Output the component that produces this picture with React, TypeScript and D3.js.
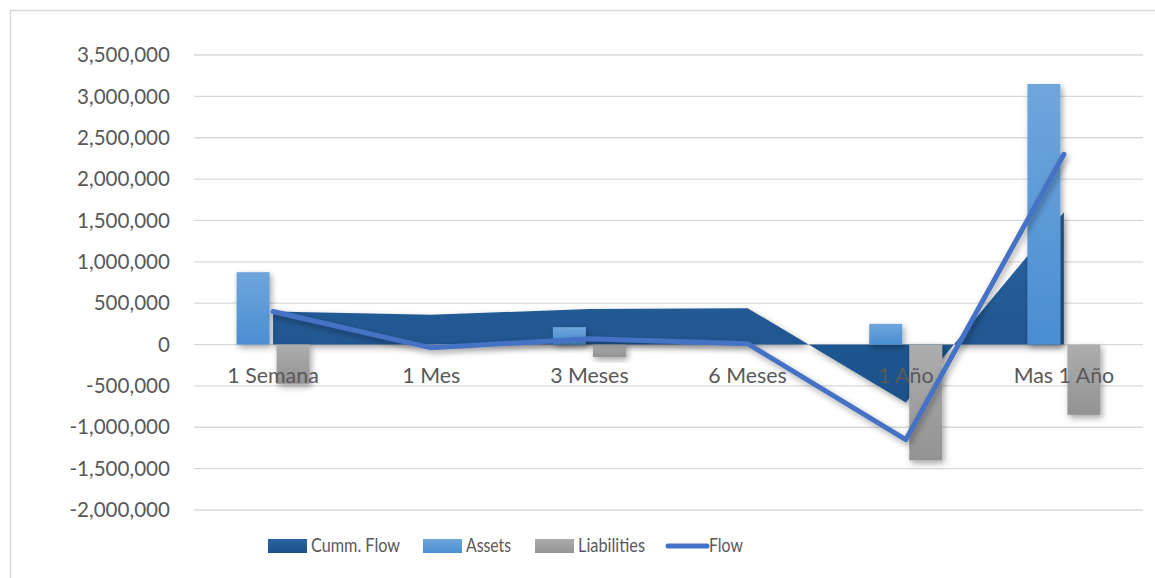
import React from "react";
import * as d3 from "d3";

const categories = ["1 Semana", "1 Mes", "3 Meses", "6 Meses", "1 Año", "Mas 1 Año"];
const assets = [875000, 0, 210000, 10000, 250000, 3150000];
const liabilities = [-475000, -40000, -150000, 0, -1400000, -850000];
const flow = [400000, -40000, 70000, 10000, -1150000, 2300000];
const cummFlow = [400000, 360000, 430000, 440000, -700000, 1600000];
const yTicks = [-2000000, -1500000, -1000000, -500000, 0, 500000, 1000000, 1500000, 2000000, 2500000, 3000000, 3500000];

const W = 1155;
const H = 578;
const font = "Lato, 'Open Sans', sans-serif";
const textColor = "#595959";

const App = () => {
  const x = d3.scaleBand().domain(categories).range([194, 1143]).padding(0);
  const y = d3.scaleLinear().domain([-2000000, 3500000]).range([510, 55]);
  const cx = (c) => (x(c) ?? 0) + x.bandwidth() / 2;
  const barW = 33;
  const gap = 3.5;
  const fmt = d3.formatLocale({ decimal: ".", thousands: ",", grouping: [3], currency: ["", ""], minus: "-" }).format(",");

  const area = d3
    .area<number>()
    .x((_, i) => cx(categories[i]))
    .y0(y(0))
    .y1((d) => y(d));

  const line = d3
    .line<number>()
    .x((_, i) => cx(categories[i]))
    .y((d) => y(d));

  // legend text is condensed in the original, so widths are fixed
  const legend = [
    { label: "Cumm. Flow", fill: "url(#gCumm)", x: 268, w: 89, type: "rect" },
    { label: "Assets", fill: "url(#gAssets)", x: 423, w: 45, type: "rect" },
    { label: "Liabilities", fill: "url(#gLiab)", x: 535, w: 67, type: "rect" },
    { label: "Flow", fill: "#4472c4", x: 666, w: 34, type: "line" },
  ];

  return (
    <svg width={W} height={H} style={{ position: "absolute", left: 0, top: 0, background: "#fff" }}>
      <defs>
        <linearGradient id="gCumm" x1="0" y1="0" x2="0" y2="1">
          <stop offset="0" stopColor="#2a64a0" />
          <stop offset="1" stopColor="#1b5189" />
        </linearGradient>
        <linearGradient id="gAssets" x1="0" y1="0" x2="0" y2="1">
          <stop offset="0" stopColor="#6fa6dc" />
          <stop offset="1" stopColor="#4a8ed2" />
        </linearGradient>
        <linearGradient id="gLiab" x1="0" y1="0" x2="0" y2="1">
          <stop offset="0" stopColor="#adadad" />
          <stop offset="1" stopColor="#939393" />
        </linearGradient>
        <filter id="shadow" x="-20%" y="-20%" width="140%" height="140%">
          <feDropShadow dx="2" dy="3" stdDeviation="3" floodColor="#000" floodOpacity="0.35" />
        </filter>
      </defs>

      <rect x={10.5} y={10.5} width={1160} height={600} fill="none" stroke="#d9d9d9" strokeWidth={1.5} />

      {/* gridlines + y labels */}
      {yTicks.map((t) => (
        <g key={t}>
          <line x1={194} x2={1143} y1={y(t)} y2={y(t)} stroke="#d9d9d9" strokeWidth={1.3} />
          <text x={170} y={y(t)} dy="0.35em" textAnchor="end" fontFamily={font} fontSize={20.6} fill={textColor}>
            {fmt(t)}
          </text>
        </g>
      ))}

      {/* cumulative flow area */}
      <path d={area(cummFlow) ?? ""} fill="url(#gCumm)" filter="url(#shadow)" />

      {/* bars */}
      {categories.map((c, i) => (
        <g key={c} filter="url(#shadow)">
          {assets[i] !== 0 && (
            <rect
              x={cx(c) - gap - barW}
              y={y(Math.max(0, assets[i]))}
              width={barW}
              height={Math.abs(y(assets[i]) - y(0))}
              fill="url(#gAssets)"
            />
          )}
          {liabilities[i] !== 0 && (
            <rect
              x={cx(c) + gap}
              y={y(0)}
              width={barW}
              height={Math.abs(y(liabilities[i]) - y(0))}
              fill="url(#gLiab)"
            />
          )}
        </g>
      ))}

      {/* category labels */}
      {categories.map((c) => (
        <text key={c} x={cx(c)} y={383} textAnchor="middle" fontFamily={font} fontSize={21.4} fill={textColor}>
          {c}
        </text>
      ))}

      {/* flow line */}
      <path
        d={line(flow) ?? ""}
        fill="none"
        stroke="#4472c4"
        strokeWidth={5}
        strokeLinecap="round"
        strokeLinejoin="round"
        filter="url(#shadow)"
      />

      {/* legend */}
      {legend.map((l) => (
        <g key={l.label}>
          {l.type === "rect" ? (
            <rect x={l.x} y={539} width={39} height={14} fill={l.fill} />
          ) : (
            <line x1={l.x + 2} x2={l.x + 41} y1={546} y2={546} stroke={l.fill} strokeWidth={5} strokeLinecap="round" />
          )}
          <text
            x={l.x + 43}
            y={552}
            fontFamily={font}
            fontSize={20}
            fill={textColor}
            textLength={l.w}
            lengthAdjust="spacingAndGlyphs"
          >
            {l.label}
          </text>
        </g>
      ))}
    </svg>
  );
};

export default App;
